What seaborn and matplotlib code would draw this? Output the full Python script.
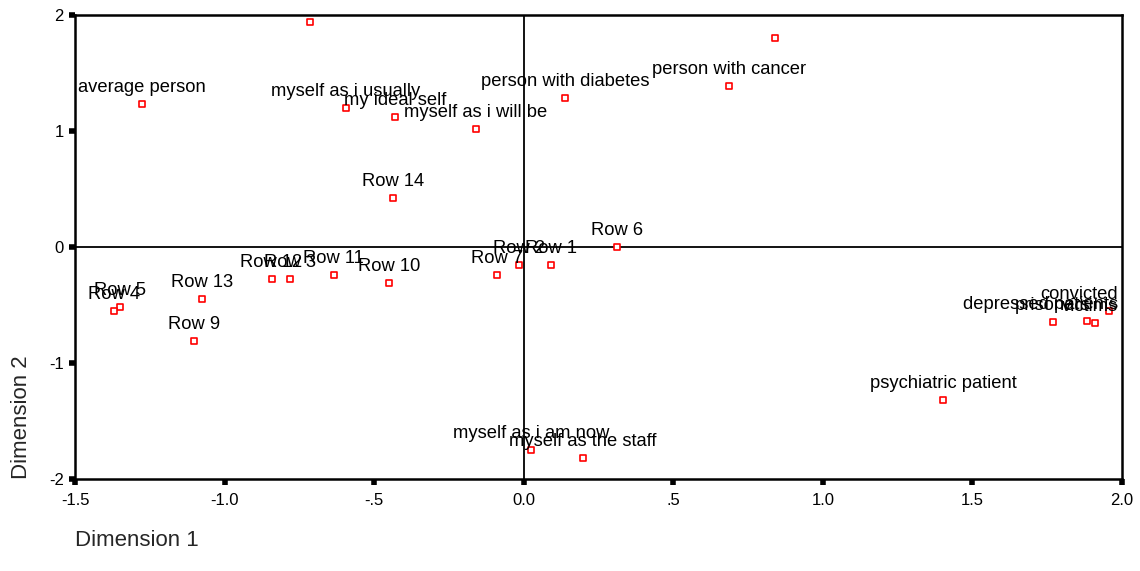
import matplotlib
matplotlib.use("Agg")
import matplotlib.pyplot as plt
import seaborn as sns
import pandas as pd

labels = ["average person", "myself as i usually", "my ideal self", "myself as i will be",
          "person with diabetes", "person with cancer", "", "",
          "Row 14", "Row 6", "Row 1", "Row 2", "Row 7", "Row 10", "Row 11", "Row 3",
          "Row 12", "Row 13", "Row 5", "Row 4", "Row 9",
          "myself as i am now", "myself as the staff", "psychiatric patient",
          "prisoners", "depressed patients", "victims", "convicted"]
dim1 = [-1.276, -0.594, -0.430, -0.160, 0.138, 0.687, -0.714, 0.840,
        -0.437, 0.312, 0.091, -0.015, -0.088, -0.450, -0.635, -0.782,
        -0.843, -1.075, -1.350, -1.371, -1.103,
        0.025, 0.199, 1.402,
        1.769, 1.882, 1.910, 1.955]
dim2 = [1.231, 1.197, 1.121, 1.021, 1.283, 1.387, 1.940, 1.801,
        0.419, 0.002, -0.154, -0.154, -0.240, -0.307, -0.238, -0.275,
        -0.275, -0.448, -0.514, -0.549, -0.810,
        -1.747, -1.816, -1.318,
        -0.650, -0.638, -0.652, -0.555]
xticks = [-1.5, -1.0, -0.5, 0.0, 0.5, 1.0, 1.5, 2.0]
xticklabels = ["-1.5", "-1.0", "-.5", "0.0", ".5", "1.0", "1.5", "2.0"]
yticks = [-2, -1, 0, 1, 2]
yticklabels = ["-2", "-1", "0", "1", "2"]

df = pd.DataFrame({"label": labels, "Dimension 1": dim1, "Dimension 2": dim2})

sns.set_theme(style="white")
plt.rcParams["font.family"] = ["Liberation Sans", "DejaVu Sans"]

fig = plt.figure(figsize=(11.4, 5.71), dpi=100)
W, H = 1140, 571
ax = fig.add_axes([75 / W, 1 - 479 / H, (1122 - 75) / W, (479 - 15) / H])

ax.axhline(0, color="black", lw=1.3, zorder=1)
ax.axvline(0, color="black", lw=1.3, zorder=1)

sns.scatterplot(data=df, x="Dimension 1", y="Dimension 2", ax=ax, marker="s",
                s=15, facecolor="white", edgecolor="red", linewidth=1.2, zorder=3)

ax.set_xlim(-1.5, 2.0)
ax.set_ylim(-2, 2)
ax.set_xticks(xticks)
ax.set_xticklabels(xticklabels, fontsize=12)
ax.set_yticks(yticks)
ax.set_yticklabels(yticklabels, fontsize=12)
ax.tick_params(axis="both", direction="out", length=4, width=4, color="black",
               bottom=True, left=True, pad=4, labelcolor="black")
ax.tick_params(axis="x", pad=6)
for sp in ax.spines.values():
    sp.set_color("black")
    sp.set_linewidth(1.8)
ax.set_xlabel("")
ax.set_ylabel("")

anns = []
for lab, x, y in zip(df["label"], df["Dimension 1"], df["Dimension 2"]):
    if not lab:
        continue
    a = ax.annotate(lab, (x, y), xytext=(0, 12), textcoords="offset pixels",
                    ha="center", va="baseline", fontsize=13.2, color="black",
                    zorder=4, annotation_clip=False)
    anns.append(a)

fig.canvas.draw()
r = fig.canvas.get_renderer()
axbb = ax.get_window_extent(r)
for a in anns:
    bb = a.get_window_extent(r)
    dx = 0
    if bb.x1 > axbb.x1 - 4:
        dx = (axbb.x1 - 4) - bb.x1
    if dx:
        a.xyann = (dx, 12)

fig.text(75 / W, 1 - 541 / H, "Dimension 1", ha="left", va="center", fontsize=16)
fig.text(22 / W, 1 - 479 / H, "Dimension 2", ha="center", va="bottom",
         rotation=90, fontsize=16)

fig.savefig("out.png", dpi=100)
